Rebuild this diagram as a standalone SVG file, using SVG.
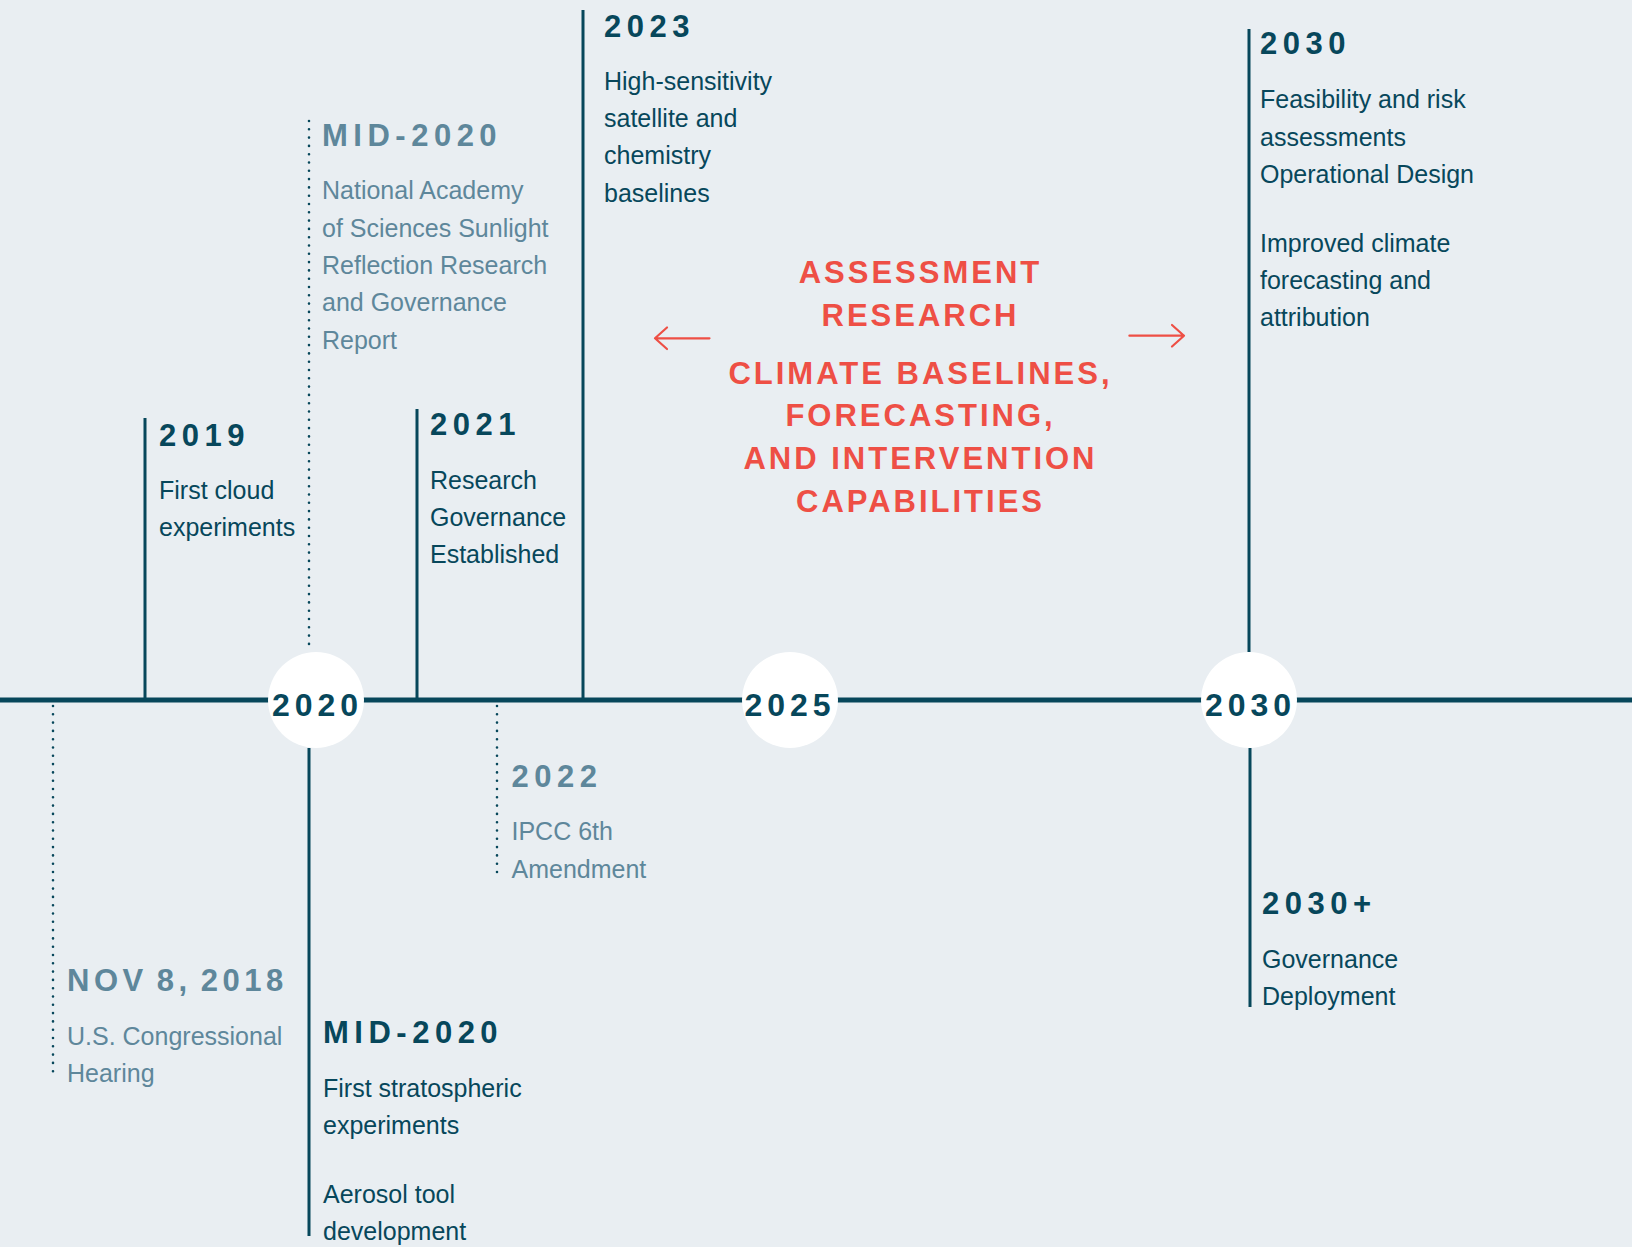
<svg xmlns="http://www.w3.org/2000/svg" width="1632" height="1247" viewBox="0 0 1632 1247">
<defs>
<style>
.bg{fill:#e9eef2}
.main{stroke:#07475b;stroke-width:5;fill:none}
.solid{stroke:#07475b;stroke-width:3;fill:none}
.dot{stroke:#07475b;stroke-width:2.6;stroke-dasharray:0 8.3;stroke-linecap:round;fill:none}
.circ{fill:#ffffff}
.yr{font-family:"Liberation Sans",Arial,sans-serif;font-weight:bold;font-size:32px;letter-spacing:5px;fill:#07475b;text-anchor:middle}
.h{font-family:"Liberation Sans",Arial,sans-serif;font-weight:bold;font-size:31px;letter-spacing:5.5px;fill:#07475b}
.hm{font-family:"Liberation Sans",Arial,sans-serif;font-weight:bold;font-size:31px;letter-spacing:5.5px;fill:#5e879b}
.b{font-family:"Liberation Sans",Arial,sans-serif;font-size:25px;fill:#07475b}
.bm{font-family:"Liberation Sans",Arial,sans-serif;font-size:25px;fill:#5e879b}
.red{font-family:"Liberation Sans",Arial,sans-serif;font-weight:bold;font-size:31px;letter-spacing:3px;fill:#ee4f45;text-anchor:middle}
.arr{stroke:#ee4f45;stroke-width:2.2;fill:none;stroke-linecap:round;stroke-linejoin:round}
</style>
</defs>
<rect class="bg" x="0" y="0" width="1632" height="1247"/>

<g id="connectors">
<line class="main" x1="0" y1="700" x2="1632" y2="700"/>
<line class="solid" x1="583" y1="10" x2="583" y2="700"/>
<line class="dot" x1="309" y1="121" x2="309" y2="647"/>
<line class="solid" x1="145" y1="418" x2="145" y2="700"/>
<line class="solid" x1="417" y1="409" x2="417" y2="700"/>
<line class="solid" x1="1249" y1="29" x2="1249" y2="652"/>
<line class="dot" x1="497" y1="706" x2="497" y2="874"/>
<line class="dot" x1="53" y1="706" x2="53" y2="1077"/>
<line class="solid" x1="309" y1="748" x2="309" y2="1236"/>
<line class="solid" x1="1250" y1="748" x2="1250" y2="1007"/>
</g>

<g id="circle-2020">
<circle class="circ" cx="316" cy="700" r="48"/>
<text class="yr" x="317.5" y="716">2020</text>
</g>
<g id="circle-2025">
<circle class="circ" cx="790" cy="700" r="48"/>
<text class="yr" x="790" y="716">2025</text>
</g>
<g id="circle-2030">
<circle class="circ" cx="1249" cy="700" r="48"/>
<text class="yr" x="1250.5" y="716">2030</text>
</g>

<g id="node-2023">
<text class="h" x="604" y="36.5">2023</text>
<text class="b" x="604" y="90">High-sensitivity</text>
<text class="b" x="604" y="127.3">satellite and</text>
<text class="b" x="604" y="164.3">chemistry</text>
<text class="b" x="604" y="201.6">baselines</text>
</g>

<g id="node-mid2020-top">
<text class="hm" x="322" y="146">MID-2020</text>
<text class="bm" x="322" y="199.3">National Academy</text>
<text class="bm" x="322" y="236.6">of Sciences Sunlight</text>
<text class="bm" x="322" y="273.9">Reflection Research</text>
<text class="bm" x="322" y="311.2">and Governance</text>
<text class="bm" x="322" y="348.5">Report</text>
</g>

<g id="node-2019">
<text class="h" x="159" y="445.5">2019</text>
<text class="b" x="159" y="499">First cloud</text>
<text class="b" x="159" y="536">experiments</text>
</g>

<g id="node-2021">
<text class="h" x="430" y="435">2021</text>
<text class="b" x="430" y="488.7">Research</text>
<text class="b" x="430" y="525.7">Governance</text>
<text class="b" x="430" y="562.7">Established</text>
</g>

<g id="node-2030">
<text class="h" x="1260" y="54">2030</text>
<text class="b" x="1260" y="108.3">Feasibility and risk</text>
<text class="b" x="1260" y="145.6">assessments</text>
<text class="b" x="1260" y="182.9">Operational Design</text>
<text class="b" x="1260" y="251.7">Improved climate</text>
<text class="b" x="1260" y="289">forecasting and</text>
<text class="b" x="1260" y="326.3">attribution</text>
</g>

<g id="node-center">
<text class="red" x="920.5" y="282.7">ASSESSMENT</text>
<text class="red" x="920.5" y="325.7">RESEARCH</text>
<text class="red" x="920.5" y="384">CLIMATE BASELINES,</text>
<text class="red" x="920.5" y="426">FORECASTING,</text>
<text class="red" x="920.5" y="469">AND INTERVENTION</text>
<text class="red" x="920.5" y="511.7">CAPABILITIES</text>
<path class="arr" d="M709.5 338.3 H655 M667 327.5 L655 338.3 L667 349"/>
<path class="arr" d="M1129.4 335.7 H1184 M1172 325 L1184 335.7 L1172 346.5"/>
</g>

<g id="node-2022">
<text class="hm" x="511.5" y="787">2022</text>
<text class="bm" x="511.5" y="840">IPCC 6th</text>
<text class="bm" x="511.5" y="877.5">Amendment</text>
</g>

<g id="node-nov2018">
<text class="hm" x="67" y="991" style="letter-spacing:4.5px;word-spacing:-4px">NOV 8, 2018</text>
<text class="bm" x="67" y="1044.5">U.S. Congressional</text>
<text class="bm" x="67" y="1082">Hearing</text>
</g>

<g id="node-mid2020-bottom">
<text class="h" x="323" y="1042.5">MID-2020</text>
<text class="b" x="323" y="1096.5">First stratospheric</text>
<text class="b" x="323" y="1133.5">experiments</text>
<text class="b" x="323" y="1202.5">Aerosol tool</text>
<text class="b" x="323" y="1240">development</text>
</g>

<g id="node-2030plus">
<text class="h" x="1262" y="914">2030+</text>
<text class="b" x="1262" y="968.3">Governance</text>
<text class="b" x="1262" y="1004.5">Deployment</text>
</g>
</svg>
